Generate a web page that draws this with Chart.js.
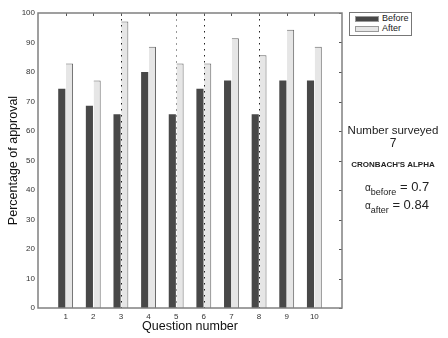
<!DOCTYPE html>
<html>
<head>
<meta charset="utf-8">
<script src="https://cdn.jsdelivr.net/npm/chart.js@4"></script>
<style>
  html, body { margin: 0; padding: 0; background: #fff; }
  #wrap { position: relative; width: 448px; height: 338px; font-family: "Liberation Sans", Arial, sans-serif; color: #222; }
  canvas { position: absolute; left: 0; top: 0; }
  .legend { position: absolute; left: 349px; top: 12px; width: 61px; height: 22px; border: 1px solid #777; background: #fff; font-size: 9px; }
  .legend .row { position: absolute; left: 5px; height: 9px; line-height: 9px; white-space: nowrap; }
  .legend .sw { display: inline-block; width: 24px; height: 6px; vertical-align: middle; margin-right: 3px; border: 1px solid #999; box-sizing: border-box; }
  .note { position: absolute; left: 340px; width: 106px; text-align: center; white-space: nowrap; }
  .alpha { position: absolute; left: 365px; font-size: 13px; white-space: nowrap; }
  .alpha .a { font-size: 10px; }
  .alpha sub { font-size: 9px; vertical-align: -4px; }
</style>
</head>
<body>
<div id="wrap">
  <canvas id="chart" width="448" height="338"></canvas>
  <div class="legend" id="legend"></div>
  <div class="note" style="top:124px;font-size:11.5px;">Number surveyed</div>
  <div class="note" style="top:136px;font-size:12px;">7</div>
  <div class="note" style="top:160px;font-size:8px;font-weight:bold;">CRONBACH'S ALPHA</div>
  <div class="alpha" style="top:179px;"><span class="a">&alpha;</span><sub>before</sub> = 0.7</div>
  <div class="alpha" style="top:197px;"><span class="a">&alpha;</span><sub>after</sub> = 0.84</div>
</div>
<script>
const questions = ['0', '1', '2', '3', '4', '5', '6', '7', '8', '9', '10', '11'];
const before = [null, 74.3, 68.6, 65.7, 80.0, 65.7, 74.3, 77.1, 65.7, 77.1, 77.1, null];
const after = [null, 82.9, 77.1, 97.1, 88.6, 82.9, 82.9, 91.4, 85.7, 94.3, 88.6, null];
const yTicks = [0, 10, 20, 30, 40, 50, 60, 70, 80, 90, 100];
const dottedAt = ['3', '6', '8'];
const dashedAt = ['5'];

const darkCol = '#484848';
const lightCol = '#e6e6e6';

// MATLAB-ish box with inward ticks and the stray dotted lines
const boxPlugin = {
  id: 'box',
  afterDatasetsDraw(chart) {
    const { ctx, chartArea: a, scales: { x, y } } = chart;
    ctx.save();
    ctx.lineWidth = 1;
    dottedAt.forEach(q => {
      const px = Math.round(x.getPixelForValue(questions.indexOf(q))) + 0.5;
      ctx.strokeStyle = '#222';
      ctx.setLineDash([1.5, 4.5]);
      ctx.beginPath(); ctx.moveTo(px, a.top); ctx.lineTo(px, a.bottom); ctx.stroke();
    });
    dashedAt.forEach(q => {
      const px = Math.round(x.getPixelForValue(questions.indexOf(q))) + 0.5;
      ctx.strokeStyle = '#999';
      ctx.setLineDash([2, 4]);
      ctx.beginPath(); ctx.moveTo(px, a.top); ctx.lineTo(px, a.bottom); ctx.stroke();
    });
    ctx.setLineDash([]);
    ctx.strokeStyle = '#555';
    for (let i = 1; i <= 10; i++) {
      const px = Math.round(x.getPixelForValue(i)) + 0.5;
      ctx.beginPath(); ctx.moveTo(px, a.top); ctx.lineTo(px, a.top + 3); ctx.stroke();
    }
    yTicks.forEach(v => {
      const py = Math.round(y.getPixelForValue(v)) + 0.5;
      ctx.beginPath(); ctx.moveTo(a.right, py); ctx.lineTo(a.right - 3, py); ctx.stroke();
    });
    ctx.strokeStyle = '#808080';
    ctx.lineWidth = 1.5;
    ctx.strokeRect(a.left, a.top, a.right - a.left, a.bottom - a.top);
    ctx.restore();
  }
};

const chart = new Chart(document.getElementById('chart'), {
  type: 'bar',
  data: {
    labels: questions,
    datasets: [
      { label: 'Before', data: before, backgroundColor: darkCol, borderWidth: 0 },
      { label: 'After', data: after, backgroundColor: lightCol, borderColor: '#666',
        borderWidth: { top: 1, right: 1, left: 0, bottom: 0 }, borderSkipped: 'bottom' }
    ]
  },
  options: {
    responsive: false,
    animation: false,
    devicePixelRatio: 1,
    categoryPercentage: 0.56,
    barPercentage: 0.92,
    layout: { padding: { top: 13, right: 106, left: 2, bottom: 0 } },
    plugins: { legend: { display: false }, tooltip: { enabled: false } },
    scales: {
      x: {
        offset: false,
        grid: { display: false, drawTicks: false },
        border: { display: false },
        ticks: {
          autoSkip: false, maxRotation: 0, padding: 4,
          font: { size: 8, family: 'Liberation Sans' }, color: '#333',
          callback: (v, i) => (i === 0 || i === questions.length - 1) ? '' : questions[i]
        },
        title: { display: true, text: 'Question number', padding: { top: 1 },
                 font: { size: 12.5, family: 'Liberation Sans' }, color: '#111' },
        afterFit: s => { s.height = 30; }
      },
      y: {
        min: 0, max: 100,
        afterBuildTicks: s => { s.ticks = yTicks.map(v => ({ value: v })); },
        grid: { display: false, drawTicks: false },
        border: { display: false },
        ticks: { padding: 3, font: { size: 8, family: 'Liberation Sans' }, color: '#333' },
        title: { display: true, text: 'Percentage of approval', padding: { bottom: 0 },
                 font: { size: 12.5, family: 'Liberation Sans' }, color: '#111' },
        afterFit: s => { s.width = 36; }
      }
    }
  },
  plugins: [boxPlugin]
});

const legendEl = document.getElementById('legend');
legendEl.innerHTML = chart.data.datasets.map((d, i) =>
  `<div class="row" style="top:${1 + i * 10}px"><span class="sw" style="background:${d.backgroundColor}"></span>${d.label}</div>`
).join('');
</script>
</body>
</html>
